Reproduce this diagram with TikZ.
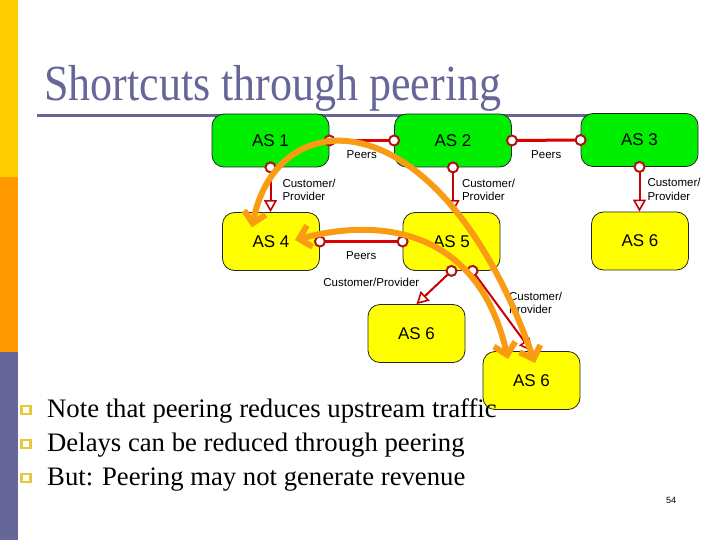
\documentclass[tikz,border=0pt]{standalone}
\usepackage{fontspec}
\setmainfont{Liberation Serif}
\newfontfamily\arialfont{Liberation Sans}
\usetikzlibrary{arrows.meta,calc}

\definecolor{slidepurple}{RGB}{102,102,153}
\definecolor{slideyellow}{RGB}{255,204,0}
\definecolor{slideorange}{RGB}{255,153,0}
\definecolor{asgreen}{RGB}{0,238,0}
\definecolor{asyellow}{RGB}{255,255,0}
\definecolor{linkred}{RGB}{220,0,0}
\definecolor{linkdark}{RGB}{175,20,20}
\definecolor{pathorange}{RGB}{250,155,20}
\definecolor{bulletgold}{RGB}{232,200,60}

\tikzset{
  asbox/.style={draw=black!85, line width=0.8pt, rounded corners=12pt, inner sep=0pt,
    font=\arialfont\fontsize{17}{20}\selectfont},
  tierone/.style={asbox, fill=asgreen, minimum width=117pt, minimum height=53pt},
  tiertwo/.style={asbox, fill=asyellow, minimum width=97pt, minimum height=58pt},
  linklabel/.style={font=\arialfont\fontsize{11.5}{13.5}\selectfont, inner sep=1pt, align=left},
  peerlink/.style={draw=linkred, line width=3pt,
    {Circle[open,fill=white,length=12pt,line width=2pt,color=linkdark]}-{Circle[open,fill=white,length=12pt,line width=2pt,color=linkdark]},
    shorten <=-6pt, shorten >=-6pt},
  custlink/.style={draw=linkred!90!black, line width=2pt,
    {Circle[open,fill=white,length=12pt,line width=2pt,color=linkdark]}-{Triangle[open,fill=white,length=12pt,width=13pt,line width=1.6pt]},
    shorten <=-6pt},
  shortcut/.style={draw=pathorange, line width=6pt,
    {Straight Barb[length=11pt,width=22pt]}-{Straight Barb[length=11pt,width=22pt]}},
  bulletsq/.style={draw=bulletgold, fill=white, line width=2.2pt, minimum width=9pt, minimum height=8pt, inner sep=0pt},
  bullettext/.style={anchor=base west, inner sep=0pt, font=\fontsize{26.7}{30}\selectfont},
}

\begin{document}
\begin{tikzpicture}[x=1pt, y=-1pt]
  % slide background and side bar
  \fill[white] (0,0) rectangle (720,540);
  \useasboundingbox (0,0) rectangle (720,540);
  \fill[slideyellow] (0,0) rectangle (18,177);
  \fill[slideorange] (0,177) rectangle (18,352);
  \fill[slidepurple] (0,352) rectangle (18,540);

  % title
  \node[anchor=base west, inner sep=0pt, text=slidepurple, font=\fontsize{44}{50}\selectfont]
    (title) at (44,101) {\scalebox{1}[1.15]{Shortcuts through peering}};
  \draw[slidepurple, line width=3pt] (37,116) -- (673,116);

  % autonomous systems
  \node[tierone] (as1) at (270.5,140.5) {AS 1};
  \node[tierone] (as2) at (453,140.5) {AS 2};
  \node[tierone] (as3) at (639.5,140) {AS 3};
  \node[tiertwo] (as4) at (271,241.5) {AS 4};
  \node[tiertwo] (as5) at (451.5,241.5) {AS 5};
  \node[tiertwo] (as6) at (640,241) {AS 6};
  \node[tiertwo] (as6m) at (416.5,333.5) {AS 6};
  \node[tiertwo] (as6b) at (531.5,380.5) {AS 6};

  % peering links
  \draw[peerlink] (as1.east) -- node[linklabel, below=8pt] (p12) {Peers} (as2.west);
  \draw[peerlink] (as2.east) -- node[linklabel, below=8pt] (p23) {Peers} (as3.west);
  \draw[peerlink] (as4.east) -- node[linklabel, below=8pt] (p45) {Peers} (as5.west);

  % customer/provider links
  \draw[custlink] (as1.south) -- node[linklabel, right=10pt] (c14) {Customer/\\Provider} (as1.south |- as4.north);
  \draw[custlink] (as2.south) -- node[linklabel, right=7pt] (c25) {Customer/\\Provider} (as2.south |- as5.north);
  \draw[custlink] (as3.south) -- node[linklabel, right=6pt] (c36) {Customer/\\Provider} (as3.south |- as6.north);
  \draw[custlink] (as5.south) -- node[linklabel, pos=0.35, left=18pt] (c5m) {Customer/Provider} (as6m.north);
  \draw[custlink] ($(as5.south)+(21,0)$) -- node[linklabel, pos=0.4, right=11pt] (c5b) {Customer/\\Provider} (as6b.north);

  % bullets
  \node[bulletsq] (b1) at (26,410) {};
  \node[bulletsq] (b2) at (26,444) {};
  \node[bulletsq] (b3) at (26,478) {};
  \node[bullettext] (t1) at (47,417) {Note that peering reduces upstream traffic};
  \node[bullettext] (t2) at (47,451) {Delays can be reduced through peering};
  \node[bullettext] (t3) at (47,485) {But: Peering may not generate revenue};

  \node[font=\arialfont\fontsize{9}{10}\selectfont] (pagenum) at (671,500) {54};

  % shortcut paths
  \draw[shortcut] ($(as4.center)+(-19,-14)$) .. controls +(25,-128) and +(-95,-268) .. ($(as6b.center)+(3.5,-17.5)$);
  \draw[shortcut] ($(as4.center)+(24,-1.5)$) .. controls +(95,-25) and +(-28,-123) .. ($(as6b.center)+(-23.5,-21.5)$);
\end{tikzpicture}
\end{document}
